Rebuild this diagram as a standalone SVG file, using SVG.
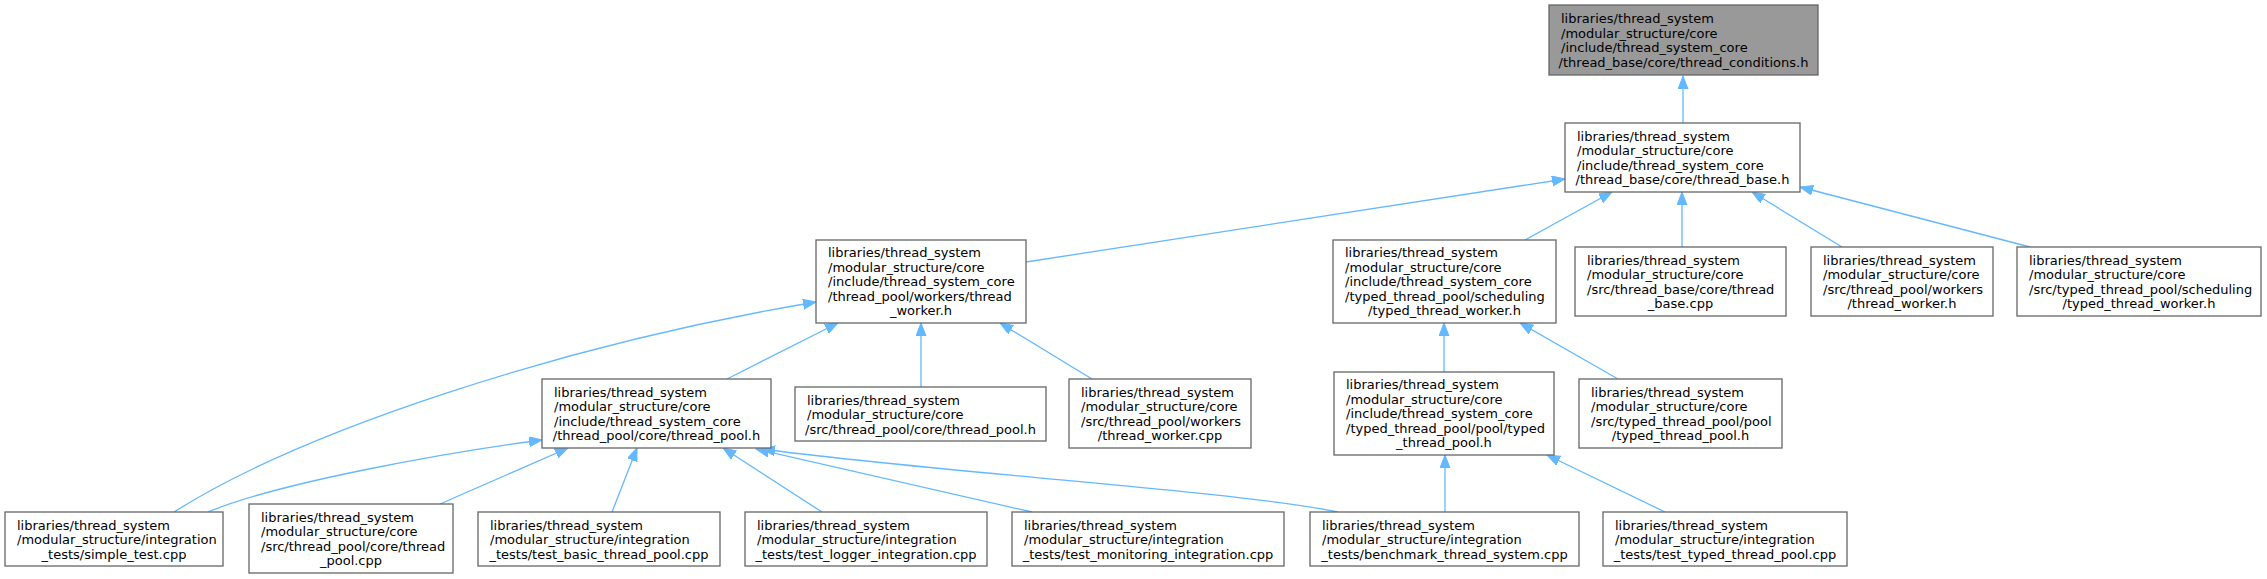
<svg xmlns="http://www.w3.org/2000/svg" width="2267" height="579" viewBox="0 0 2267 579">
<style>
.n rect{fill:#ffffff;stroke:#666666;stroke-width:1.3}
.n.g rect{fill:#999999}
.n text{font-family:"DejaVu Sans",sans-serif;font-size:13px;fill:#000000}
.c{text-anchor:middle}
#edges path{fill:none;stroke:#63b8ff;stroke-width:1.3;marker-end:url(#ah)}
</style>
<defs>
<marker id="ah" markerUnits="userSpaceOnUse" markerWidth="14" markerHeight="11" refX="13" refY="5" orient="auto">
<path d="M0,0 L13,5 L0,10 z" fill="#63b8ff" stroke="#63b8ff" stroke-width="1"/>
</marker>
</defs>
<rect width="2267" height="579" fill="#ffffff"/>
<g id="edges">
<path d="M1683,123 L1683,76"/>
<path d="M1026,262 L1565,179"/>
<path d="M1525,240 L1612,192"/>
<path d="M1682,247 L1682,192"/>
<path d="M1842,247 L1752,192"/>
<path d="M2030,247 L1800,187"/>
<path d="M174,512 C300,432 560,345 816,302"/>
<path d="M727,379 L838,323"/>
<path d="M921,387 L921,323"/>
<path d="M1092,379 L1000,323"/>
<path d="M1444,372 L1444,323"/>
<path d="M1618,379 L1520,323"/>
<path d="M1445,512 L1445,455"/>
<path d="M1665,512 L1547,455"/>
<path d="M208,512 C280,482 450,452 542,440"/>
<path d="M440,504 L568,448"/>
<path d="M612,512 L637,448"/>
<path d="M822,512 L723,448"/>
<path d="M1032,512 L756,449"/>
<path d="M1338,512 C1230,490 930,472 762,449"/>
</g>
<g id="n0" class="n g"><rect x="1549" y="5" width="269" height="70"/>
<text x="1561" y="23.25">libraries/thread_system</text><text x="1561" y="37.75">/modular_structure/core</text><text x="1561" y="52.25">/include/thread_system_core</text><text x="1683.5" y="66.75" class="c">/thread_base/core/thread_conditions.h</text></g>
<g id="n1" class="n"><rect x="1565" y="123" width="235" height="69"/>
<text x="1577" y="140.75">libraries/thread_system</text><text x="1577" y="155.25">/modular_structure/core</text><text x="1577" y="169.75">/include/thread_system_core</text><text x="1682.5" y="184.25" class="c">/thread_base/core/thread_base.h</text></g>
<g id="n2" class="n"><rect x="816" y="240" width="210" height="83"/>
<text x="828" y="257">libraries/thread_system</text><text x="828" y="271.5">/modular_structure/core</text><text x="828" y="286">/include/thread_system_core</text><text x="828" y="300.5">/thread_pool/workers/thread</text><text x="921" y="315" class="c">_worker.h</text></g>
<g id="n3" class="n"><rect x="1333" y="240" width="223" height="83"/>
<text x="1345" y="257">libraries/thread_system</text><text x="1345" y="271.5">/modular_structure/core</text><text x="1345" y="286">/include/thread_system_core</text><text x="1345" y="300.5">/typed_thread_pool/scheduling</text><text x="1444.5" y="315" class="c">/typed_thread_worker.h</text></g>
<g id="n4" class="n"><rect x="1575" y="247" width="211" height="69"/>
<text x="1587" y="264.75">libraries/thread_system</text><text x="1587" y="279.25">/modular_structure/core</text><text x="1587" y="293.75">/src/thread_base/core/thread</text><text x="1680.5" y="308.25" class="c">_base.cpp</text></g>
<g id="n5" class="n"><rect x="1811" y="247" width="182" height="69"/>
<text x="1823" y="264.75">libraries/thread_system</text><text x="1823" y="279.25">/modular_structure/core</text><text x="1823" y="293.75">/src/thread_pool/workers</text><text x="1902" y="308.25" class="c">/thread_worker.h</text></g>
<g id="n6" class="n"><rect x="2017" y="247" width="244" height="69"/>
<text x="2029" y="264.75">libraries/thread_system</text><text x="2029" y="279.25">/modular_structure/core</text><text x="2029" y="293.75">/src/typed_thread_pool/scheduling</text><text x="2139" y="308.25" class="c">/typed_thread_worker.h</text></g>
<g id="n7" class="n"><rect x="542" y="379" width="229" height="69"/>
<text x="554" y="396.75">libraries/thread_system</text><text x="554" y="411.25">/modular_structure/core</text><text x="554" y="425.75">/include/thread_system_core</text><text x="656.5" y="440.25" class="c">/thread_pool/core/thread_pool.h</text></g>
<g id="n8" class="n"><rect x="795" y="387" width="251" height="54"/>
<text x="807" y="404.5">libraries/thread_system</text><text x="807" y="419">/modular_structure/core</text><text x="920.5" y="433.5" class="c">/src/thread_pool/core/thread_pool.h</text></g>
<g id="n9" class="n"><rect x="1069" y="379" width="182" height="69"/>
<text x="1081" y="396.75">libraries/thread_system</text><text x="1081" y="411.25">/modular_structure/core</text><text x="1081" y="425.75">/src/thread_pool/workers</text><text x="1160" y="440.25" class="c">/thread_worker.cpp</text></g>
<g id="n10" class="n"><rect x="1334" y="372" width="220" height="83"/>
<text x="1346" y="389">libraries/thread_system</text><text x="1346" y="403.5">/modular_structure/core</text><text x="1346" y="418">/include/thread_system_core</text><text x="1346" y="432.5">/typed_thread_pool/pool/typed</text><text x="1444" y="447" class="c">_thread_pool.h</text></g>
<g id="n11" class="n"><rect x="1579" y="379" width="203" height="69"/>
<text x="1591" y="396.75">libraries/thread_system</text><text x="1591" y="411.25">/modular_structure/core</text><text x="1591" y="425.75">/src/typed_thread_pool/pool</text><text x="1680.5" y="440.25" class="c">/typed_thread_pool.h</text></g>
<g id="n12" class="n"><rect x="5" y="512" width="218" height="54"/>
<text x="17" y="529.5">libraries/thread_system</text><text x="17" y="544">/modular_structure/integration</text><text x="114" y="558.5" class="c">_tests/simple_test.cpp</text></g>
<g id="n13" class="n"><rect x="249" y="504" width="204" height="69"/>
<text x="261" y="521.75">libraries/thread_system</text><text x="261" y="536.25">/modular_structure/core</text><text x="261" y="550.75">/src/thread_pool/core/thread</text><text x="351" y="565.25" class="c">_pool.cpp</text></g>
<g id="n14" class="n"><rect x="478" y="512" width="242" height="54"/>
<text x="490" y="529.5">libraries/thread_system</text><text x="490" y="544">/modular_structure/integration</text><text x="599" y="558.5" class="c">_tests/test_basic_thread_pool.cpp</text></g>
<g id="n15" class="n"><rect x="745" y="512" width="242" height="54"/>
<text x="757" y="529.5">libraries/thread_system</text><text x="757" y="544">/modular_structure/integration</text><text x="866" y="558.5" class="c">_tests/test_logger_integration.cpp</text></g>
<g id="n16" class="n"><rect x="1012" y="512" width="272" height="54"/>
<text x="1024" y="529.5">libraries/thread_system</text><text x="1024" y="544">/modular_structure/integration</text><text x="1148" y="558.5" class="c">_tests/test_monitoring_integration.cpp</text></g>
<g id="n17" class="n"><rect x="1310" y="512" width="269" height="54"/>
<text x="1322" y="529.5">libraries/thread_system</text><text x="1322" y="544">/modular_structure/integration</text><text x="1444.5" y="558.5" class="c">_tests/benchmark_thread_system.cpp</text></g>
<g id="n18" class="n"><rect x="1603" y="512" width="244" height="54"/>
<text x="1615" y="529.5">libraries/thread_system</text><text x="1615" y="544">/modular_structure/integration</text><text x="1725" y="558.5" class="c">_tests/test_typed_thread_pool.cpp</text></g>
</svg>
